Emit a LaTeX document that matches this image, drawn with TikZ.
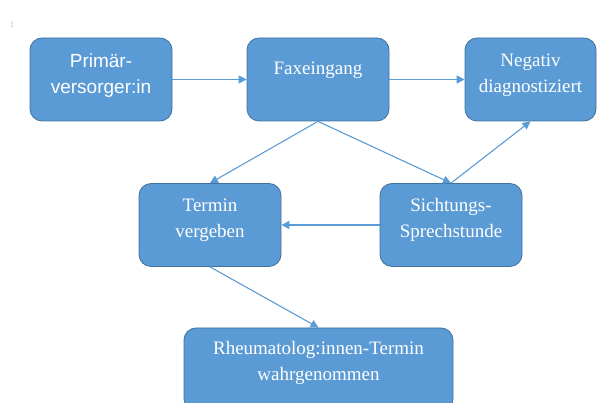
\documentclass[tikz,border=0pt]{standalone}
\usepackage{fontspec}
\setmainfont{Liberation Serif}
\newfontfamily\arialfont{Liberation Sans}
\usetikzlibrary{arrows.meta}
\usetikzlibrary{positioning}
\definecolor{boxfill}{HTML}{5B9BD5}
\definecolor{boxline}{HTML}{41719C}
\definecolor{flowblue}{HTML}{5B9BD5}
\tikzset{
  box/.style={draw=boxline, fill=boxfill, line width=0.8pt, rounded corners=12pt,
    minimum width=142pt, minimum height=83pt, text=white, align=center,
    font=\fontsize{19}{26}\selectfont},
  flow/.style={draw=flowblue, line width=1.1pt, -{Triangle[length=8pt,width=8pt]}},
}

\begin{document}
\begin{tikzpicture}[x=1pt,y=1pt]
  \useasboundingbox (0,0) rectangle (597,403);
  \node[text=black!22, font=\small] (mark) at (12,378) {1};
  % upper row
  \node[box, font=\arialfont\fontsize{19}{26}\selectfont, text depth=12pt] (prim) at (101,323.5) {Primär-\\versorger:in};
  \node[box, text depth=23pt]                   (fax)  at (318,323.5)   {Faxeingang};
  \node[box, minimum width=131pt, text depth=12pt] (neg) at (530.5,323.5) {Negativ\\diagnostiziert};
  % middle row
  \node[box, text depth=14pt] (termin) at (210,178) {Termin\\vergeben};
  \node[box, text depth=14pt] (sicht)  at (451,178) {Sichtungs-\\Sprechstunde};
  % bottom
  \node[box, minimum width=269pt, text depth=17pt] (rheuma) at (318.5,33.5) {Rheumatolog:innen-Termin\\wahrgenommen};
  % connectors
  \draw[flow] (prim) -- (fax);
  \draw[flow] (fax) -- (neg);
  \draw[flow] (fax.south) -- (termin.north);
  \draw[flow] (fax.south) -- (sicht.north);
  \draw[flow] (sicht.north) -- (neg.south);
  \draw[flow] (sicht) -- (termin);
  \draw[flow] (termin.south) -- (rheuma.north);
\end{tikzpicture}
\end{document}
